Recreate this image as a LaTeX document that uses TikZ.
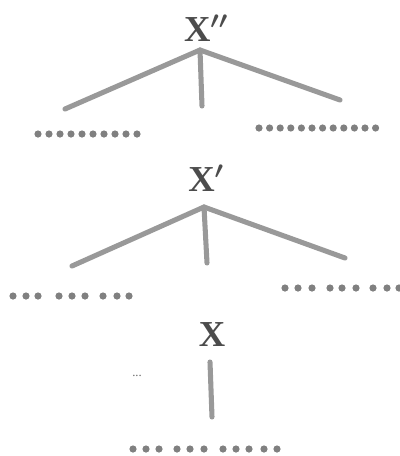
\documentclass[tikz,border=0pt]{standalone}
\usepackage{fontspec}
\setmainfont{Liberation Serif}
\usetikzlibrary{positioning}
\begin{document}
\begin{tikzpicture}
[x=0.025cm, y=-0.025cm, node distance=1cm]
\tikzstyle{cat}=[font=\fontsize{26}{28}\selectfont\bfseries\boldmath, text=black!70, inner sep=0pt]
\tikzstyle{branch}=[line width=3.6pt, draw=black!40, line cap=round]
\tikzstyle{word}=[circle, fill=black!50, inner sep=0pt, minimum size=1.8mm]
\useasboundingbox (0,0) rectangle (400,456);

% X''
\node[cat]	(XPP)	at (206,28)	{X$^{\prime\prime}$};
\coordinate	(XPPtop)	at (200,50);
\coordinate	(XPPl)	at (65,109);
\coordinate	(XPPm)	at (202,106);
\coordinate	(XPPr)	at (340,100);
\draw[branch] (XPPl)--(XPPtop)--(XPPr);
\draw[branch] (XPPtop)--(XPPm);
\foreach \x in {38,49,...,137} \node[word] at (\x,134) {};
\foreach \x in {259,269.6,...,376} \node[word] at (\x,128) {};

% X'
\node[cat]	(XP)	at (206,178)	{X$^{\prime}$};
\coordinate	(XPtop)	at (204,207);
\coordinate	(XPl)	at (72,266);
\coordinate	(XPm)	at (207,263);
\coordinate	(XPr)	at (345,258);
\draw[branch] (XPl)--(XPtop)--(XPr);
\draw[branch] (XPtop)--(XPm);
\foreach \x in {13,26,38,59,72,85,103,117,129} \node[word] at (\x,296) {};
\foreach \x in {285,298,312,330,342,356,373,387,399} \node[word] at (\x,288) {};

% X
\node[cat]	(X)	at (212,335)	{X};
\coordinate	(Xtop)	at (210,362);
\coordinate	(Xbot)	at (212,417);
\draw[branch] (Xtop)--(Xbot);
\node[font=\small, text=black!60]	(gap)	at (137,376)	{...};
\foreach \x in {133,146,159,177,190,204,223,236,249,264,277} \node[word] at (\x,449) {};

\end{tikzpicture}
\end{document}
